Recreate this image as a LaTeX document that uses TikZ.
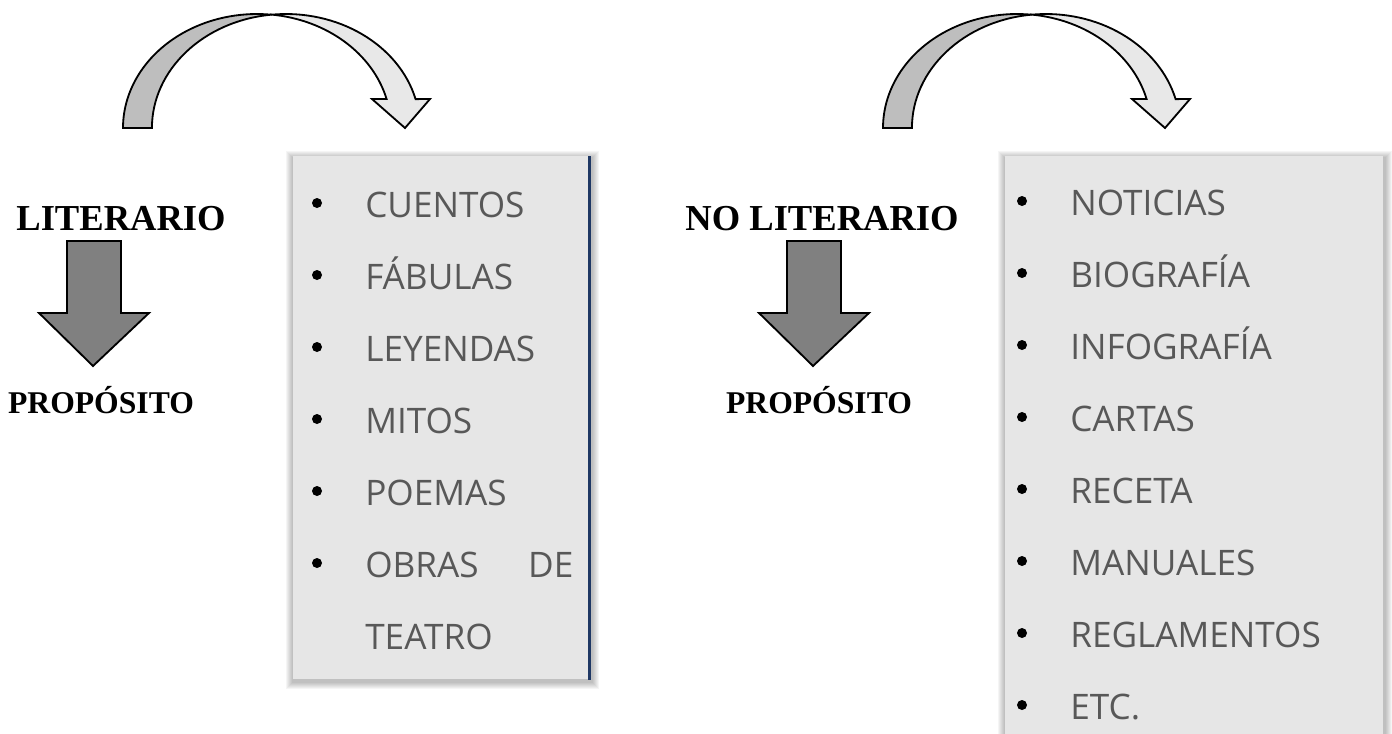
\documentclass[tikz,border=0pt]{standalone}
\usepackage{fontspec}
\setmainfont{Liberation Serif}
\newfontfamily\listfont{Open Sans}
\usetikzlibrary{positioning}
\definecolor{boxGray}{RGB}{230,230,230}
\definecolor{itemText}{RGB}{88,88,88}
\definecolor{backShade}{RGB}{190,190,190}
\definecolor{frontShade}{RGB}{232,232,232}
\definecolor{downGray}{RGB}{128,128,128}
\definecolor{edgeBlue}{RGB}{31,56,100}

\begin{document}
\begin{tikzpicture}[
  x=0.025cm, y=-0.025cm,
  headline/.style={font=\bfseries\fontsize{26}{30}\selectfont, inner sep=0pt, anchor=base},
  purpose/.style={font=\bfseries\fontsize{22.5}{26}\selectfont, inner sep=0pt, anchor=base},
  item/.style={font=\listfont\fontsize{25}{30}\selectfont, text=itemText, inner sep=0pt, anchor=base west},
  bulletdot/.style={circle, fill=black, inner sep=0pt, minimum size=0.25cm},
  listbox/.style={fill=boxGray, inner sep=0pt, anchor=north west},
  block/.style={draw=black, line width=1.3pt, line join=miter}
]
\useasboundingbox (0,0) rectangle (1392,733);
\clip (0,0) rectangle (1392,733);

% curved arrows over each column
\foreach \dx in {0,760} {
  \begin{scope}[shift={(\dx,0)}]
    \draw[block, fill=backShade] (123,128)
      arc[start angle=180, end angle=276.2, x radius=134, y radius=114]
      arc[start angle=263.8, end angle=180, x radius=134, y radius=114] -- cycle;
    \draw[block, fill=frontShade] (271.5,14.7)
      arc[start angle=263.8, end angle=345.3, x radius=134, y radius=114]
      -- (430,99) -- (405,128) -- (372,99) -- (386.6,99)
      arc[start angle=345.3, end angle=276.2, x radius=134, y radius=114] -- cycle;
  \end{scope}
}

% down arrows
\foreach \cx in {94,814}
  \draw[block, fill=downGray] (\cx-27,241) -- (\cx+27,241) -- (\cx+27,313) -- (\cx+55,313)
    -- (\cx-1,366) -- (\cx-55,313) -- (\cx-27,313) -- cycle;

\node[headline] (lit) at (121,230) {LITERARIO};
\node[purpose] (litp) at (101,413) {PROPÓSITO};
\node[headline] (nolit) at (822,230) {NO LITERARIO};
\node[purpose] (nolitp) at (819,413) {PROPÓSITO};

% soft shadows
\foreach \s in {1,...,7} {
  \fill[black, opacity=0.04] (293-\s,156-\s+2) rectangle (590+\s+2,679+\s+3);
  \fill[black, opacity=0.04] (1005-\s,156-\s+2) rectangle (1383+\s+2,760);
}
\node[listbox, minimum width=7.425cm, minimum height=13.075cm] (lbox) at (293,156) {};
\node[listbox, minimum width=9.45cm, minimum height=15.1cm] (rbox) at (1005,156) {};
\draw[edgeBlue, line width=2pt] ([xshift=-1pt]lbox.north east) -- ([xshift=-1pt]lbox.south east);

% literary list
\foreach \txt [count=\i] in {CUENTOS, FÁBULAS, LEYENDAS, MITOS, POEMAS} {
  \node[bulletdot] (lb\i) at (317,131+72*\i) {};
  \node[item] (li\i) at (365,145+72*\i) {\txt};
}
\node[bulletdot] (lb6) at (317,563) {};
\node[item, text width=5.2cm] (li6) at (365,577) {OBRAS\hfill DE};
\node[item] (li7) at (365,649) {TEATRO};

% non literary list
\foreach \txt [count=\i] in {NOTICIAS, BIOGRAFÍA, INFOGRAFÍA, CARTAS, RECETA, MANUALES, REGLAMENTOS, ETC.} {
  \node[bulletdot] (rb\i) at (1022,129+72*\i) {};
  \node[item] (ri\i) at (1070,143+72*\i) {\txt};
}
\end{tikzpicture}
\end{document}
